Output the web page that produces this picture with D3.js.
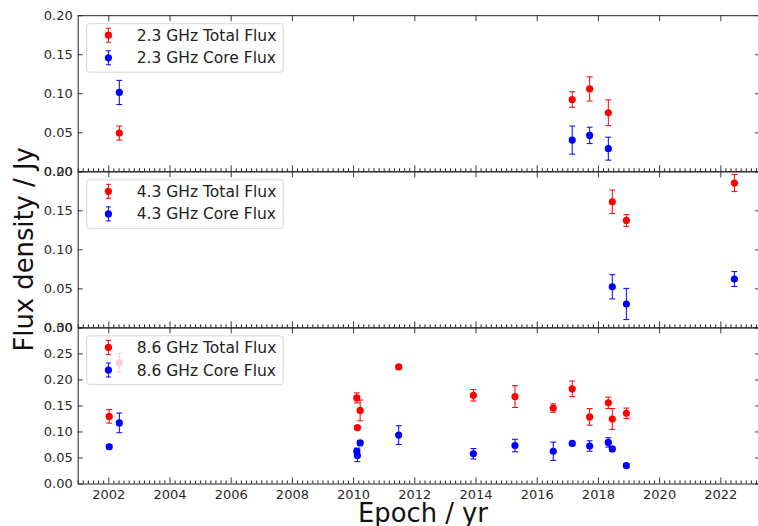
<!DOCTYPE html>
<html>
<head>
<meta charset="utf-8">
<script src="https://cdn.jsdelivr.net/npm/d3@7"></script>
<style>
  html, body { margin: 0; padding: 0; background: #fff; }
  svg { display: block; }
</style>
</head>
<body>
<svg id="chart" width="758" height="526"></svg>
<script>
// ---- data: epochs (yr), flux densities (Jy) and 1-sigma errors ----
const epochs23 = [2002.36, 2017.16, 2017.73, 2018.34];
const total23 = [0.049, 0.092, 0.1055, 0.075];
const totalErr23 = [0.009, 0.010, 0.0155, 0.0165];
const core23 = [0.101, 0.040, 0.046, 0.029];
const coreErr23 = [0.0155, 0.018, 0.0105, 0.0147];

const epochs43 = [2018.47, 2018.93, 2022.46];
const total43 = [0.161, 0.137, 0.185];
const totalErr43 = [0.015, 0.0075, 0.011];
const core43 = [0.052, 0.030, 0.062];
const coreErr43 = [0.0155, 0.020, 0.0095];

const epochs86 = [2002.03, 2002.36, 2010.12, 2010.14, 2010.23, 2011.49, 2013.93,
                  2015.29, 2016.54, 2017.16, 2017.73, 2018.34, 2018.47, 2018.93];
const total86 = [0.129, 0.232, 0.1645, 0.1075, 0.1405, 0.224, 0.1695,
                 0.167, 0.145, 0.182, 0.128, 0.155, 0.124, 0.135];
const totalErr86 = [0.013, 0.018, 0.0096, 0.004, 0.020, 0.004, 0.011,
                    0.021, 0.008, 0.015, 0.016, 0.011, 0.020, 0.010];
const core86 = [0.0705, 0.1165, 0.062, 0.054, 0.078, 0.093, 0.057,
                0.073, 0.062, 0.077, 0.072, 0.079, 0.0665, 0.0345];
const coreErr86 = [0.004, 0.019, 0.006, 0.012, 0.004, 0.018, 0.010,
                   0.012, 0.0175, 0.004, 0.010, 0.009, 0.004, 0.004];

const bandLabels = ["2.3 GHz", "4.3 GHz", "8.6 GHz"];
const yMaxima = [0.20, 0.20, 0.30];
const xTickValues = [2002, 2004, 2006, 2008, 2010, 2012, 2014, 2016, 2018, 2020, 2022];
const xLimits = [2001.0, 2023.3];

const panels = [
  { band: bandLabels[0], yMax: yMaxima[0], epochs: epochs23, total: total23, totalErr: totalErr23, core: core23, coreErr: coreErr23 },
  { band: bandLabels[1], yMax: yMaxima[1], epochs: epochs43, total: total43, totalErr: totalErr43, core: core43, coreErr: coreErr43 },
  { band: bandLabels[2], yMax: yMaxima[2], epochs: epochs86, total: total86, totalErr: totalErr86, core: core86, coreErr: coreErr86 }
];

// ---- layout ----
const left = 77.7, right = 760.1;
const top0 = 15.2, panelH = 156.1;
const FONT = "DejaVu Sans, sans-serif";
const RED = "#ff0000", BLUE = "#0000ff";
const AXIS = "#222";

const svg = d3.select("#chart");
const x = d3.scaleLinear().domain(xLimits).range([left, right]);

const minorTicks = d3.range(Math.ceil(xLimits[0] * 6), Math.floor(xLimits[1] * 6) + 1)
  .map(v => v / 6)
  .filter(v => !xTickValues.some(t => Math.abs(t - v) < 1e-6));

panels.forEach((p, i) => {
  const yTop = top0 + i * panelH, yBot = yTop + panelH;
  const y = d3.scaleLinear().domain([0, p.yMax]).range([yBot, yTop]);
  const g = svg.append("g");
  const yTicks = d3.range(0, p.yMax + 1e-9, 0.05);

  // bottom axis: major + minor ticks pointing inward, labels only on last panel
  const xBottom = d3.axisBottom(x).tickValues(xTickValues).tickSizeInner(-6).tickSizeOuter(0)
    .tickFormat(i === panels.length - 1 ? d3.format("d") : () => "").tickPadding(6);
  const gxb = g.append("g").attr("transform", `translate(0,${yBot})`).call(xBottom);
  g.append("g").attr("transform", `translate(0,${yBot})`)
    .call(d3.axisBottom(x).tickValues(minorTicks).tickSizeInner(-3).tickSizeOuter(0).tickFormat(() => ""))
    .call(s => s.select(".domain").remove());

  // top axis: major ticks only, inward
  const gxt = g.append("g").attr("transform", `translate(0,${yTop})`)
    .call(d3.axisTop(x).tickValues(xTickValues).tickSizeInner(-6).tickSizeOuter(0).tickFormat(() => ""));

  // left and right axes
  const gyl = g.append("g").attr("transform", `translate(${left},0)`)
    .call(d3.axisLeft(y).tickValues(yTicks).tickSizeInner(-5).tickSizeOuter(0)
      .tickFormat(d3.format(".2f")).tickPadding(5));
  const gyr = g.append("g").attr("transform", `translate(${right},0)`)
    .call(d3.axisRight(y).tickValues(yTicks).tickSizeInner(-5).tickSizeOuter(0).tickFormat(() => ""));

  [gxb, gxt, gyl, gyr].forEach(a => {
    a.selectAll(".domain").attr("stroke", AXIS).attr("stroke-width", 1);
    a.selectAll(".tick line").attr("stroke", AXIS).attr("stroke-width", 0.9);
    a.selectAll("text").attr("font-family", FONT).attr("font-size", 13).attr("fill", "#2a2a2a");
  });
  g.selectAll(".tick line").attr("stroke", AXIS);

  // error-bar series
  function drawSeries(values, errs, color) {
    const s = g.append("g");
    p.epochs.forEach((e, k) => {
      const cx = x(e), v = values[k], er = errs[k];
      s.append("line").attr("x1", cx).attr("x2", cx)
        .attr("y1", y(v - er)).attr("y2", y(v + er))
        .attr("stroke", color).attr("stroke-width", 1);
      [v - er, v + er].forEach(c => s.append("line")
        .attr("x1", cx - 3).attr("x2", cx + 3).attr("y1", y(c)).attr("y2", y(c))
        .attr("stroke", color).attr("stroke-width", 1));
      s.append("circle").attr("cx", cx).attr("cy", y(v)).attr("r", 3.6).attr("fill", color);
    });
  }
  drawSeries(p.total, p.totalErr, RED);
  drawSeries(p.core, p.coreErr, BLUE);

  // legend
  const lg = g.append("g").attr("transform", `translate(${left + 9},${yTop + 8.5})`);
  lg.append("rect").attr("width", 196.5).attr("height", 48.5).attr("rx", 3)
    .attr("fill", "#fff").attr("fill-opacity", 0.8)
    .attr("stroke", "#d6d6d6").attr("stroke-width", 1);
  [["Total Flux", RED], ["Core Flux", BLUE]].forEach(([name, color], r) => {
    const ry = 11.5 + r * 22.6, mx = 21.7;
    lg.append("line").attr("x1", mx).attr("x2", mx).attr("y1", ry - 7).attr("y2", ry + 7)
      .attr("stroke", color).attr("stroke-width", 1);
    [ry - 7, ry + 7].forEach(c => lg.append("line").attr("x1", mx - 2.5).attr("x2", mx + 2.5)
      .attr("y1", c).attr("y2", c).attr("stroke", color).attr("stroke-width", 1));
    lg.append("circle").attr("cx", mx).attr("cy", ry).attr("r", 3.6).attr("fill", color);
    lg.append("text").attr("x", 50).attr("y", ry).attr("dy", "0.36em")
      .attr("font-family", FONT).attr("font-size", 15.5).attr("fill", "#222")
      .text(`${p.band} ${name}`);
  });
});

// axis titles
svg.append("text")
  .attr("transform", `translate(33,${top0 + 1.5 * panelH}) rotate(-90)`)
  .attr("text-anchor", "middle")
  .attr("font-family", FONT).attr("font-size", 25.8).attr("fill", "#111")
  .text("Flux density / Jy");
svg.append("text")
  .attr("x", 423).attr("y", 522)
  .attr("text-anchor", "middle")
  .attr("font-family", FONT).attr("font-size", 25.8).attr("fill", "#111")
  .text("Epoch / yr");
</script>
</body>
</html>
